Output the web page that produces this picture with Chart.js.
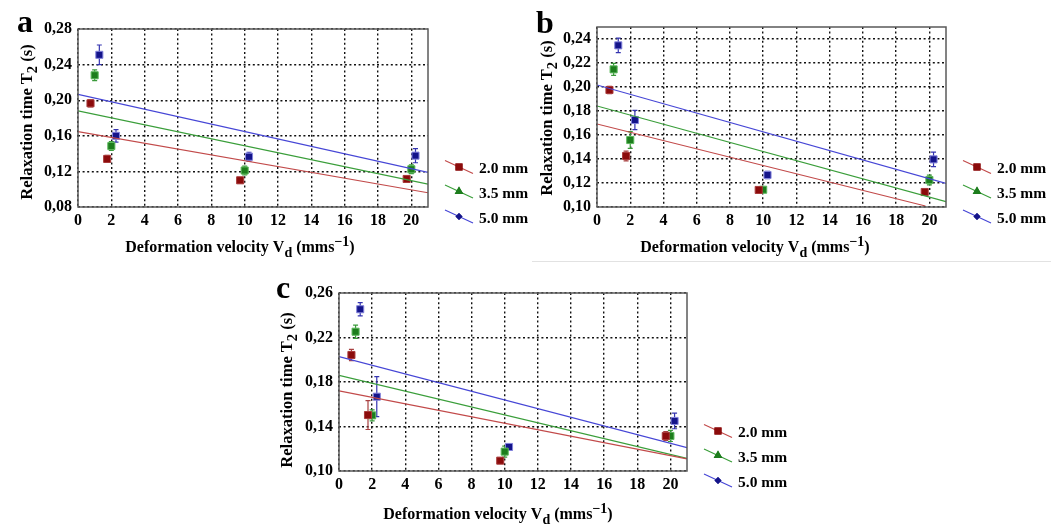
<!DOCTYPE html>
<html>
<head>
<meta charset="utf-8">
<script src="https://cdn.jsdelivr.net/npm/chart.js@4"></script>
<style>
  body { margin: 0; background: #fff; }
  #page { position: relative; width: 1051px; height: 527px; overflow: hidden; }
  .panel { position: absolute; }
  #sep { position: absolute; left: 532px; top: 261px; width: 519px; height: 1px; background: #e2e2e2; }
</style>
</head>
<body>
<div id="page">
  <div class="panel" style="left:0px;top:0px"><canvas id="chartA" width="535" height="262"></canvas></div>
  <div class="panel" style="left:530px;top:0px"><canvas id="chartB" width="521" height="262"></canvas></div>
  <div id="sep"></div>
  <div class="panel" style="left:255px;top:268px"><canvas id="chartC" width="535" height="259"></canvas></div>
</div>
<script>
"use strict"

// Legende und Achsen
const seriesNames = ['2.0 mm', '3.5 mm', '5.0 mm']
const xTicks = [0, 2, 4, 6, 8, 10, 12, 14, 16, 18, 20]
const yTicksA = [0.08, 0.12, 0.16, 0.20, 0.24, 0.28]
const yTicksB = [0.10, 0.12, 0.14, 0.16, 0.18, 0.20, 0.22, 0.24]
const yTicksC = [0.10, 0.14, 0.18, 0.22, 0.26]
const fitX = [0, 21]

// Deformationsgeschwindigkeit (mm/s), leicht versetzt pro Serie
const vel20 = [0.75, 1.75, 9.73, 19.72]
const vel35 = [1.0, 2.0, 10.0, 20.0]
const vel50 = [1.28, 2.28, 10.26, 20.25]

// Panel a: T2 (s) und Fehler
const t2A_20 = [0.1965, 0.134, 0.110, 0.1115]
const t2A_35 = [0.228, 0.1485, 0.121, 0.1224]
const t2A_50 = [0.251, 0.160, 0.1365, 0.1377]
const errA_20 = [0.004, 0.004, 0.003, 0.003]
const errA_35 = [0.006, 0.005, 0.005, 0.005]
const errA_50 = [0.011, 0.007, 0.005, 0.008]
const fitA_20 = [0.1646, 0.096]
const fitA_35 = [0.188, 0.1058]
const fitA_50 = [0.2066, 0.119]

// Panel b
const t2B_20 = [0.1975, 0.1425, 0.1142, 0.1125]
const t2B_35 = [0.2147, 0.1558, 0.1144, 0.1225]
const t2B_50 = [0.2347, 0.1725, 0.1267, 0.1397]
const errB_20 = [0.003, 0.004, 0, 0]
const errB_35 = [0.005, 0.007, 0, 0.004]
const errB_50 = [0.006, 0.008, 0.003, 0.006]
const fitB_20x = [0, 19.76] // rote Gerade endet an der Achse
const fitB_20 = [0.1692, 0.1008]
const fitB_35 = [0.1842, 0.1044]
const fitB_50 = [0.2017, 0.1197]

// Panel c
const t2C_20 = [0.2043, 0.1503, 0.1093, 0.1315]
const t2C_35 = [0.2252, 0.150, 0.1174, 0.1315]
const t2C_50 = [0.2454, 0.1668, 0.1216, 0.145]
const errC_20 = [0.005, 0.013, 0, 0.004]
const errC_35 = [0.006, 0.005, 0.005, 0.005]
const errC_50 = [0.006, 0.018, 0, 0.007]
const fitC_20 = [0.172, 0.1108]
const fitC_35 = [0.186, 0.1114]
const fitC_50 = [0.2028, 0.121]

// Farben: Marker, Rand, Gerade
const colors = [
    { fill: '#8b0b0b', edge: '#a83a3a', line: '#c24a4a', err: '#a84040', legend: 'rect' },
    { fill: '#1d7d1d', edge: '#5cb85c', line: '#3a9e3a', err: '#3a9a3a', legend: 'triangle' },
    { fill: '#14148a', edge: '#8484dc', line: '#4646d6', err: '#3434b0', legend: 'rectRot' }
]

const FONT = "'Liberation Serif', 'DejaVu Serif', serif"

function pts(xs, ys) {
    return xs.map((x, i) => ({ x: x, y: ys[i] }))
}

function fmtComma(v) {
    return v.toFixed(2).replace('.', ',')
}

// Text mit Tief-/Hochstellung zeichnen
function richText(ctx, parts, x, y, size) {
    let w = 0
    parts.forEach(p => {
        ctx.font = 'bold ' + (p[1] ? size - 2 : size) + 'px ' + FONT
        w += ctx.measureText(p[0]).width
    })
    let cx = x - w / 2
    ctx.textAlign = 'left'
    ctx.textBaseline = 'middle'
    parts.forEach(p => {
        ctx.font = 'bold ' + (p[1] ? size - 2 : size) + 'px ' + FONT
        const dy = p[1] === 'sub' ? 5 : (p[1] === 'sup' ? -6 : 0)
        ctx.fillText(p[0], cx, y + dy)
        cx += ctx.measureText(p[0]).width
    })
}

const decoPlugin = {
    id: 'deco',
    beforeDatasetsDraw(chart) {
        // Fehlerbalken
        const ctx = chart.ctx
        const xs = chart.scales.x, ys = chart.scales.y
        ctx.save()
        chart.data.datasets.forEach(ds => {
            if (!ds.err) return
            ctx.strokeStyle = ds.errColor
            ctx.lineWidth = 1.2
            ds.data.forEach((p, i) => {
                const e = ds.err[i]
                if (!e) return
                const px = xs.getPixelForValue(p.x)
                const y1 = ys.getPixelForValue(p.y + e)
                const y2 = ys.getPixelForValue(p.y - e)
                ctx.beginPath()
                ctx.moveTo(px, y1); ctx.lineTo(px, y2)
                ctx.moveTo(px - 2.5, y1); ctx.lineTo(px + 2.5, y1)
                ctx.moveTo(px - 2.5, y2); ctx.lineTo(px + 2.5, y2)
                ctx.stroke()
            })
        })
        ctx.restore()
    },
    afterDraw(chart, args, o) {
        const ctx = chart.ctx
        const a = chart.chartArea
        ctx.save()
        // Rahmen
        ctx.strokeStyle = '#5a5a5a'
        ctx.lineWidth = 1.5
        ctx.strokeRect(a.left, a.top, a.right - a.left, a.bottom - a.top)
        ctx.fillStyle = '#000'
        // Buchstabe
        ctx.font = 'bold 32px ' + FONT
        ctx.textAlign = 'left'
        ctx.textBaseline = 'alphabetic'
        ctx.fillText(o.letter, o.letterX, o.letterY)
        // Achsentitel
        richText(ctx, [['Deformation velocity V', ''], ['d', 'sub'], [' (mms', ''], ['\u22121', 'sup'], [')', '']], o.xTitleX, o.xTitleY, 16)
        ctx.save()
        ctx.translate(o.yTitleX, o.yTitleY)
        ctx.rotate(-Math.PI / 2)
        richText(ctx, [['Relaxation time T', ''], ['2', 'sub'], [' (s)', '']], 0, 0, 16.5)
        ctx.restore()
        // Legende
        const offs = [-40, -15.5, 9.5]
        offs.forEach((off, i) => {
            const c = colors[i]
            const mx = a.right + 31, my = a.bottom + off
            ctx.strokeStyle = c.line
            ctx.lineWidth = 1.2
            ctx.beginPath()
            ctx.moveTo(mx - 14, my - 6.5); ctx.lineTo(mx + 14, my + 6.5)
            ctx.stroke()
            ctx.fillStyle = c.fill
            Chart.helpers.drawPoint(ctx, { pointStyle: c.legend, radius: i === 2 ? 3.5 : 5, borderWidth: 0 }, mx, my)
            ctx.fill()
            ctx.fillStyle = '#000'
            ctx.font = 'bold 15.5px ' + FONT
            ctx.textAlign = 'left'
            ctx.textBaseline = 'middle'
            ctx.fillText(seriesNames[i], a.right + 51, my + 2)
        })
        ctx.restore()
    }
}

function makePanel(id, p) {
    const pointSets = [p.t2[0], p.t2[1], p.t2[2]]
    const vels = [vel20, vel35, vel50]
    const datasets = []
    p.fits.forEach((f, i) => {
        datasets.push({
            type: 'line',
            data: pts(f[0], f[1]),
            borderColor: colors[i].line,
            borderWidth: 1.2,
            pointRadius: 0,
            showLine: true,
            fill: false,
            clip: 0
        })
    })
    pointSets.forEach((ys, i) => {
        datasets.push({
            label: seriesNames[i],
            data: pts(vels[i], ys),
            err: p.err[i],
            errColor: colors[i].err,
            pointStyle: 'rect',
            pointRadius: 5,
            pointBackgroundColor: colors[i].fill,
            pointBorderColor: colors[i].edge,
            pointBorderWidth: 1,
            showLine: false
        })
    })
    const w = p.w, h = p.h
    new Chart(document.getElementById(id), {
        type: 'scatter',
        data: { datasets: datasets },
        options: {
            responsive: false,
            animation: false,
            events: [],
            layout: { padding: { left: 0, top: p.area.t, right: w - p.area.r, bottom: 0 } },
            plugins: {
                legend: { display: false },
                tooltip: { enabled: false },
                deco: p.deco
            },
            scales: {
                x: {
                    type: 'linear', min: 0, max: 21,
                    afterBuildTicks: s => { s.ticks = xTicks.map(v => ({ value: v })) },
                    afterFit: s => { s.height = h - p.area.b },
                    ticks: {
                        color: '#000', padding: 4,
                        font: { family: FONT, size: 16, weight: 'bold' }
                    },
                    grid: { color: '#111', lineWidth: 1.4, drawTicks: false },
                    border: { display: false, dash: [2, 2.6] }
                },
                y: {
                    type: 'linear', min: p.yMin, max: p.yMax,
                    afterBuildTicks: s => { s.ticks = p.yTicks.map(v => ({ value: v })) },
                    ticks: {
                        color: '#000', padding: 6,
                        font: { family: FONT, size: 16, weight: 'bold' },
                        callback: v => fmtComma(v)
                    },
                    afterFit: s => { s.width = p.area.l },
                    grid: { color: '#111', lineWidth: 1.4, drawTicks: false },
                    border: { display: false, dash: [2, 2.6] }
                }
            }
        },
        plugins: [decoPlugin]
    })
}

makePanel('chartA', {
    w: 535, h: 262,
    area: { l: 78, t: 29, r: 428, b: 207 },
    yMin: 0.08, yMax: 0.28, yTicks: yTicksA,
    t2: [t2A_20, t2A_35, t2A_50],
    err: [errA_20, errA_35, errA_50],
    fits: [[fitX, fitA_20], [fitX, fitA_35], [fitX, fitA_50]],
    deco: { letter: 'a', letterX: 17, letterY: 32, xTitleX: 240, xTitleY: 248, yTitleX: 28, yTitleY: 122 }
})

makePanel('chartB', {
    w: 521, h: 262,
    area: { l: 67, t: 27, r: 416, b: 207 },
    yMin: 0.10, yMax: 0.25, yTicks: yTicksB,
    t2: [t2B_20, t2B_35, t2B_50],
    err: [errB_20, errB_35, errB_50],
    fits: [[fitB_20x, fitB_20], [fitX, fitB_35], [fitX, fitB_50]],
    deco: { letter: 'b', letterX: 6, letterY: 33, xTitleX: 225, xTitleY: 248, yTitleX: 18, yTitleY: 118 }
})

makePanel('chartC', {
    w: 535, h: 259,
    area: { l: 84, t: 25, r: 432, b: 203 },
    yMin: 0.10, yMax: 0.26, yTicks: yTicksC,
    t2: [t2C_20, t2C_35, t2C_50],
    err: [errC_20, errC_35, errC_50],
    fits: [[fitX, fitC_20], [fitX, fitC_35], [fitX, fitC_50]],
    deco: { letter: 'c', letterX: 21, letterY: 30, xTitleX: 243, xTitleY: 247, yTitleX: 33, yTitleY: 122 }
})
</script>
</body>
</html>
